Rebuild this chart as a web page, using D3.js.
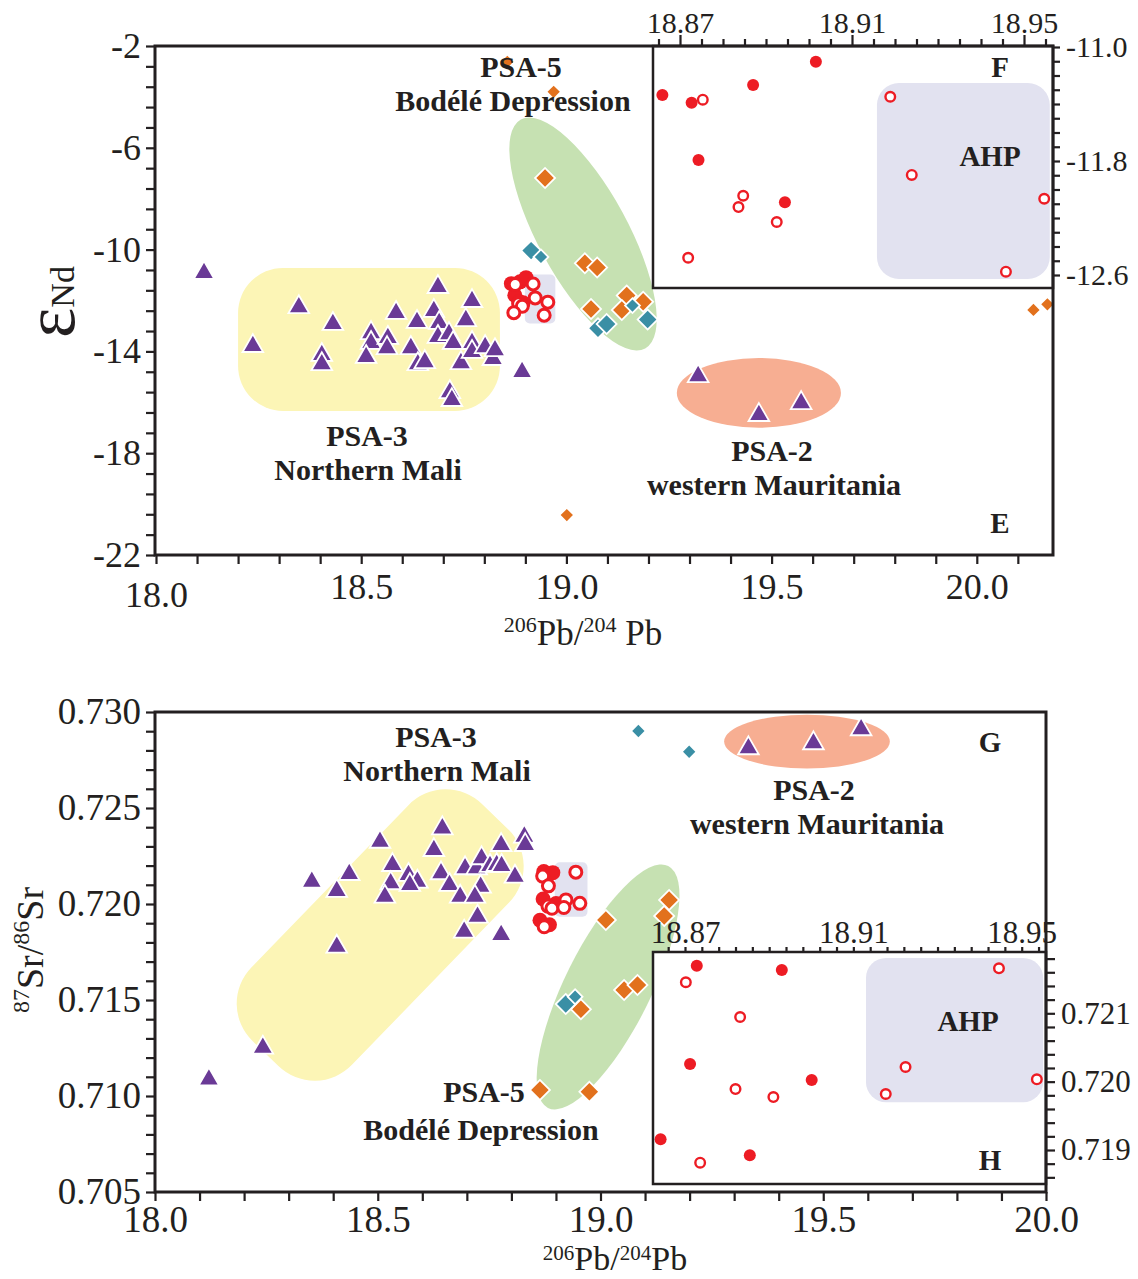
<!DOCTYPE html>
<html>
<head>
<meta charset="UTF-8">
<script src="https://d3js.org/d3.v7.min.js"></script>
<title>Pb-Nd-Sr isotopes</title>
<style>
  body { margin: 0; background: #fff; }
  text { font-family: "Liberation Serif", "Times New Roman", serif; fill: #231f20; }
</style>
</head>
<body>
<svg width="1138" height="1279"></svg>
<script>
// ---- data: 206Pb/204Pb vs eNd (panel E / inset F) ----
const ndPsa3 = [[18.117,-10.92],[18.348,-12.26],[18.236,-13.79],[18.431,-12.92],[18.404,-14.14],[18.404,-14.50],
  [18.524,-13.28],[18.524,-13.67],[18.512,-14.22],[18.565,-13.47],[18.563,-13.87],[18.585,-12.49],[18.621,-13.87],
  [18.636,-12.84],[18.638,-14.50],[18.655,-14.42],[18.677,-12.41],[18.687,-11.47],[18.690,-12.88],[18.687,-13.43],
  [18.714,-13.32],[18.724,-13.67],[18.743,-14.46],[18.755,-12.77],[18.770,-12.02],[18.770,-13.67],[18.770,-14.02],
  [18.802,-13.83],[18.821,-14.30],[18.826,-13.95],[18.716,-15.60],[18.721,-15.91],[18.892,-14.81]];
const ndPsa2 = [[19.321,-14.97],[19.469,-16.50],[19.572,-16.03]];
const ndOrange = [[18.948,-7.19],[19.045,-10.54],[19.075,-10.70],[19.060,-12.33],[19.147,-11.80],[19.187,-12.05],[19.135,-12.37]];
const ndOrangeSmall = [[18.856,-2.62],[18.969,-3.80],[19.001,-20.43],[20.138,-12.37],[20.172,-12.15]];
const ndTeal = [[18.914,-10.04],[19.077,-13.09],[19.098,-12.92],[19.198,-12.75]];
const ndTealSmall = [[18.938,-10.29],[19.161,-12.20]];
const ahpNdFilled = [[18.8659,-11.337],[18.8727,-11.391],[18.8743,-11.793],[18.8870,-11.267],[18.9016,-11.103],[18.8944,-12.090]];
const ahpNdOpen = [[18.8753,-11.370],[18.8847,-12.044],[18.8836,-12.123],[18.8925,-12.228],[18.8719,-12.479],
  [18.9189,-11.349],[18.9239,-11.898],[18.9547,-12.065],[18.9458,-12.577]];
const ahpNdBox = [[18.9158,-11.253],[18.956,-12.628]];

// ---- data: 206Pb/204Pb vs 87Sr/86Sr (panel G / inset H) ----
const srPsa3 = [[18.352,0.72116],[18.436,0.72156],[18.408,0.72068],[18.505,0.72324],[18.533,0.72203],[18.529,0.72108],
  [18.516,0.72038],[18.569,0.72151],[18.589,0.72116],[18.572,0.72099],[18.645,0.72394],[18.626,0.72281],[18.642,0.72160],
  [18.661,0.72099],[18.685,0.72038],[18.696,0.72186],[18.722,0.72186],[18.733,0.72238],[18.752,0.72198],[18.767,0.72203],
  [18.778,0.72198],[18.731,0.72090],[18.718,0.72038],[18.724,0.71934],[18.694,0.71856],[18.777,0.72307],[18.829,0.72351],
  [18.831,0.72307],[18.808,0.72142],[18.777,0.71839],[18.408,0.71778],[18.242,0.71252],[18.121,0.71086]];
const srPsa2 = [[19.332,0.72811],[19.478,0.72837],[19.585,0.72910]];
const srOrange = [[19.154,0.72021],[19.143,0.71938],[19.012,0.71917],[19.053,0.71552],[19.083,0.71578],[18.956,0.71452],
  [18.975,0.71022],[18.864,0.71031]];
const srTeal = [[18.922,0.71479]];
const srTealSmall = [[18.943,0.71517],[19.085,0.72901],[19.199,0.72793]];
const ahpSrFilled = [[18.8728,0.721696],[18.8930,0.721634],[18.8712,0.720258],[18.9001,0.720024],[18.8642,0.719157],[18.8854,0.718922]];
const ahpSrOpen = [[18.8702,0.721454],[18.8831,0.720946],[18.8820,0.719892],[18.8910,0.719775],[18.8736,0.718814],
  [18.9446,0.721658],[18.9224,0.720214],[18.9177,0.719819],[18.9536,0.720034]];
const ahpSrBox = [[18.913,0.72181],[18.9551,0.71970]];

// source areas (data coordinates)
const ndPsa3Area = [[18.200,-10.72],[18.838,-16.34]];
const ndPsa5Axis = [[18.889,-4.888],[19.192,-13.886]];
const ndPsa2Area = [[19.269,-14.26],[19.669,-17.0]];
const srPsa3Axis = [[18.248,0.71221],[18.763,0.72456]];
const srPsa5Axis = [[18.882,0.70938],[19.152,0.72198]];
const srPsa2Area = [[19.2775,0.72986],[19.6495,0.72706]];

const INK = "#231f20", PURPLE = "#6a3a96", RED = "#ed1c24", ORANGE = "#e2711d", TEAL = "#3a8fa5";
const YELLOW = "#fcf5b6", GREEN = "#c6e1b2", SALMON = "#f7ae92", LAV = "#e2e2f0";
const SERIF = '"Liberation Serif","Times New Roman",serif';

const svg = d3.select("svg");

// ---------- helpers ----------
function triangles(g, data, x, y) {
  g.selectAll(null).data(data).join("path")
    .attr("d", d3.symbol(d3.symbolTriangle, 185))
    .attr("transform", d => `translate(${x(d[0])},${y(d[1])})`)
    .attr("fill", PURPLE).attr("stroke", "#fff").attr("stroke-width", 1.8);
}
function diamonds(g, data, x, y, fill, area) {
  g.selectAll(null).data(data).join("path")
    .attr("d", d3.symbol(d3.symbolSquare, area))
    .attr("transform", d => `translate(${x(d[0])},${y(d[1])}) rotate(45)`)
    .attr("fill", fill).attr("stroke", "#fff").attr("stroke-width", 1.8);
}
function rings(g, filled, open, x, y, r, sw) {
  g.selectAll(null).data(filled).join("circle")
    .attr("cx", d => x(d[0])).attr("cy", d => y(d[1])).attr("r", r)
    .attr("fill", RED);
  g.selectAll(null).data(open).join("circle")
    .attr("cx", d => x(d[0])).attr("cy", d => y(d[1])).attr("r", r - sw / 2)
    .attr("fill", "#fff").attr("stroke", RED).attr("stroke-width", sw);
}
function box(g, b, x, y, pad, rx) {
  const x0 = x(b[0][0]) - pad, x1 = x(b[1][0]) + pad, y0 = y(b[0][1]) - pad, y1 = y(b[1][1]) + pad;
  g.append("rect").attr("x", x0).attr("y", y0).attr("width", x1 - x0).attr("height", y1 - y0)
    .attr("rx", rx).attr("fill", LAV);
}
// rounded rectangle (or ellipse when rx is null) laid along the axis p[0] -> p[1]
function tilted(g, p, x, y, half, rx, fill) {
  const x1 = x(p[0][0]), y1 = y(p[0][1]), x2 = x(p[1][0]), y2 = y(p[1][1]);
  const a = Math.hypot(x2 - x1, y2 - y1) / 2, ang = Math.atan2(y2 - y1, x2 - x1) * 180 / Math.PI;
  const tr = `translate(${(x1 + x2) / 2},${(y1 + y2) / 2}) rotate(${ang})`;
  if (rx == null) {
    g.append("ellipse").attr("rx", a).attr("ry", half).attr("transform", tr).attr("fill", fill);
  } else {
    g.append("rect").attr("x", -a).attr("y", -half).attr("width", 2 * a).attr("height", 2 * half)
      .attr("rx", rx).attr("ry", rx).attr("transform", tr).attr("fill", fill);
  }
}
function oval(g, b, x, y, fill) {
  const x0 = x(b[0][0]), x1 = x(b[1][0]), y0 = y(b[0][1]), y1 = y(b[1][1]);
  g.append("ellipse").attr("cx", (x0 + x1) / 2).attr("cy", (y0 + y1) / 2)
    .attr("rx", (x1 - x0) / 2).attr("ry", Math.abs(y1 - y0) / 2).attr("fill", fill);
}
// one text element, one tspan per line
function label(g, x, y, lines, size, gap, dxs) {
  const t = g.append("text").attr("x", x).attr("y", y).attr("text-anchor", "middle")
    .attr("font-weight", "bold").attr("font-size", size);
  lines.forEach((s, i) => t.append("tspan").attr("x", x + ((dxs && dxs[i]) || 0))
    .attr("dy", i === 0 ? 0 : gap).text(s));
}
function styleAxis(g, size) {
  g.select(".domain").remove();
  g.attr("font-family", SERIF).attr("font-size", size);
  g.selectAll(".tick line").attr("stroke", INK).attr("stroke-width", 2.2);
}
const near = (v, list) => list.some(t => Math.abs(v - t) < 1e-6);

// ================= panel E =================
const xN = d3.scaleLinear().domain([18, 20]).range([156, 976.8]);
const yN = d3.scaleLinear().domain([-2, -22]).range([46, 555]);
const gE = svg.append("g");

{
  const r = ndPsa3Area;
  gE.append("rect").attr("x", xN(r[0][0])).attr("y", yN(r[0][1]))
    .attr("width", xN(r[1][0]) - xN(r[0][0])).attr("height", yN(r[1][1]) - yN(r[0][1]))
    .attr("rx", 45).attr("fill", YELLOW);
}
tilted(gE, ndPsa5Axis, xN, yN, 45, null, GREEN);
oval(gE, ndPsa2Area, xN, yN, SALMON);
box(gE, ahpNdBox, xN, yN, 7, 5);

triangles(gE, ndPsa3, xN, yN);
triangles(gE, ndPsa2, xN, yN);
diamonds(gE, ndOrange, xN, yN, ORANGE, 200);
diamonds(gE, ndOrangeSmall, xN, yN, ORANGE, 110);
diamonds(gE, ndTeal, xN, yN, TEAL, 200);
diamonds(gE, ndTealSmall, xN, yN, TEAL, 110);
rings(gE, ahpNdFilled, ahpNdOpen, xN, yN, 7.5, 3);

label(gE, 513, 77, ["PSA-5", "Bodélé Depression"], 30, 34, [8, 0]);
label(gE, 368, 446, ["PSA-3", "Northern Mali"], 30, 34, [-1, 0]);
label(gE, 774, 461, ["PSA-2", "western Mauritania"], 30, 34, [-2, 0]);
label(gE, 1000, 533, ["E"], 29);

// inset F
const xF = d3.scaleLinear().domain([18.87, 18.95]).range([680, 1024]);
const yF = d3.scaleLinear().domain([-11.0, -12.6]).range([47, 275]);
const gF = svg.append("g");
gF.append("rect").attr("x", 653).attr("y", 46).attr("width", 400).attr("height", 242).attr("fill", "#fff");
box(gF, ahpNdBox, xF, yF, 0, 22);
rings(gF, ahpNdFilled, ahpNdOpen, xF, yF, 6, 2.4);
label(gF, 990, 166, ["AHP"], 29);
label(gF, 1000, 77, ["F"], 29);
gF.append("rect").attr("x", 653).attr("y", 46).attr("width", 400).attr("height", 242)
  .attr("fill", "none").attr("stroke", INK).attr("stroke-width", 2.5);

const fTop = [18.87, 18.91, 18.95];
gF.append("g").attr("transform", "translate(0,46)")
  .call(d3.axisTop(xF).tickValues(d3.range(19).map(k => 18.865 + 0.005 * k)).tickSize(7).tickPadding(6)
    .tickFormat(d => near(d, fTop) ? d.toFixed(2) : ""))
  .call(g => styleAxis(g, 30))
  .call(g => g.selectAll(".tick").filter(d => near(d, fTop)).select("line").attr("y2", -11));
const fRight = [-11.0, -11.8, -12.6];
gF.append("g").attr("transform", "translate(1053,0)")
  .call(d3.axisRight(yF).tickValues(d3.range(17).map(k => -11 - 0.1 * k)).tickSize(7).tickPadding(6)
    .tickFormat(d => near(d, fRight) ? d.toFixed(1) : ""))
  .call(g => styleAxis(g, 30));

// frame + axes E
svg.append("rect").attr("x", 155).attr("y", 46).attr("width", 898).attr("height", 509)
  .attr("fill", "none").attr("stroke", INK).attr("stroke-width", 3);
svg.append("g").attr("transform", "translate(155,0)")
  .call(d3.axisLeft(yN).tickValues(d3.range(26).map(k => -2 - 0.8 * k)).tickSize(9).tickPadding(5)
    .tickFormat((d, i) => i % 5 === 0 ? String(Math.round(d)) : ""))
  .call(g => styleAxis(g, 36));
svg.append("g").attr("transform", "translate(0,555)")
  .call(d3.axisBottom(xN).tickValues(d3.range(22).map(k => 18 + 0.1 * k)).tickSize(9).tickPadding(9)
    .tickFormat((d, i) => i % 5 === 0 ? d.toFixed(1) : ""))
  .call(g => styleAxis(g, 36))
  .call(g => g.selectAll(".tick text").filter((d, i) => i === 0).attr("transform", "translate(0,8)"));

// axis titles E
const eps = svg.append("text").attr("transform", "translate(74,302) rotate(-90)").attr("text-anchor", "middle");
eps.append("tspan").attr("font-size", 72).text("ε");
eps.append("tspan").attr("font-size", 34).text("Nd");
const xtE = svg.append("text").attr("x", 583).attr("y", 645).attr("text-anchor", "middle").attr("font-size", 35);
xtE.append("tspan").attr("font-size", 22).attr("dy", -13).text("206");
xtE.append("tspan").attr("dy", 13).text("Pb/");
xtE.append("tspan").attr("font-size", 22).attr("dy", -13).text("204");
xtE.append("tspan").attr("dy", 13).text(" Pb");

// ================= panel G =================
const xS = d3.scaleLinear().domain([18, 20]).range([155, 1046]);
const yS = d3.scaleLinear().domain([0.705, 0.730]).range([1192, 712]);
const gG = svg.append("g");

tilted(gG, srPsa3Axis, xS, yS, 70, 52, YELLOW);
tilted(gG, srPsa5Axis, xS, yS, 43, null, GREEN);
oval(gG, srPsa2Area, xS, yS, SALMON);
box(gG, ahpSrBox, xS, yS, 7, 5);

triangles(gG, srPsa3, xS, yS);
triangles(gG, srPsa2, xS, yS);
diamonds(gG, srOrange, xS, yS, ORANGE, 200);
diamonds(gG, srTeal, xS, yS, TEAL, 200);
diamonds(gG, srTealSmall, xS, yS, TEAL, 110);
rings(gG, ahpSrFilled, ahpSrOpen, xS, yS, 7.5, 3);

label(gG, 437, 747, ["PSA-3", "Northern Mali"], 30, 34, [-1, 0]);
label(gG, 817, 800, ["PSA-2", "western Mauritania"], 30, 34, [-3, 0]);
label(gG, 481, 1102, ["PSA-5", "Bodélé Depression"], 30, 38, [3, 0]);
label(gG, 990, 752, ["G"], 29);

// inset H
const xH = d3.scaleLinear().domain([18.87, 18.95]).range([685, 1021.7]);
const yH = d3.scaleLinear().domain([0.719, 0.721]).range([1150, 1013.3]);
const gH = svg.append("g");
gH.append("rect").attr("x", 653).attr("y", 952).attr("width", 393).attr("height", 232).attr("fill", "#fff");
box(gH, ahpSrBox, xH, yH, 0, 20);
rings(gH, ahpSrFilled, ahpSrOpen, xH, yH, 6, 2.4);
label(gH, 968, 1031, ["AHP"], 29);
label(gH, 990, 1170, ["H"], 29);
gH.append("rect").attr("x", 653).attr("y", 952).attr("width", 393).attr("height", 232)
  .attr("fill", "none").attr("stroke", INK).attr("stroke-width", 2.5);
gH.append("g").attr("transform", "translate(0,952)")
  .call(d3.axisTop(xH).tickValues(d3.range(23).map(k => 18.866 + 0.004 * k)).tickSize(5).tickPadding(4)
    .tickFormat(d => near(d, fTop) ? d.toFixed(2) : ""))
  .call(g => styleAxis(g, 31));
const hRight = [0.719, 0.720, 0.721];
gH.append("g").attr("transform", "translate(1046,0)")
  .call(d3.axisRight(yH).tickValues(d3.range(17).map(k => 0.7186 + 0.0002 * k)).tickSize(9).tickPadding(6)
    .tickFormat(d => near(d, hRight) ? d.toFixed(3) : ""))
  .call(g => styleAxis(g, 31));

// frame + axes G
svg.append("rect").attr("x", 155).attr("y", 712).attr("width", 891).attr("height", 480)
  .attr("fill", "none").attr("stroke", INK).attr("stroke-width", 3);
svg.append("g").attr("transform", "translate(155,0)")
  .call(d3.axisLeft(yS).tickValues(d3.range(26).map(k => 0.705 + 0.001 * k)).tickSize(9).tickPadding(5)
    .tickFormat((d, i) => i % 5 === 0 ? d.toFixed(3) : ""))
  .call(g => styleAxis(g, 37));
svg.append("g").attr("transform", "translate(0,1192)")
  .call(d3.axisBottom(xS).tickValues(d3.range(21).map(k => 18 + 0.1 * k)).tickSize(9).tickPadding(5)
    .tickFormat((d, i) => i % 5 === 0 ? d.toFixed(1) : ""))
  .call(g => styleAxis(g, 37));

// axis titles G
const ytG = svg.append("text").attr("transform", "translate(43,950) rotate(-90)").attr("text-anchor", "middle").attr("font-size", 38);
ytG.append("tspan").attr("font-size", 24).attr("dy", -14).text("87");
ytG.append("tspan").attr("dy", 14).text("Sr/");
ytG.append("tspan").attr("font-size", 24).attr("dy", -14).text("86");
ytG.append("tspan").attr("dy", 14).text("Sr");
const xtG = svg.append("text").attr("x", 615).attr("y", 1270).attr("text-anchor", "middle").attr("font-size", 34);
xtG.append("tspan").attr("font-size", 21).attr("dy", -10).text("206");
xtG.append("tspan").attr("dy", 10).text("Pb/");
xtG.append("tspan").attr("font-size", 21).attr("dy", -10).text("204");
xtG.append("tspan").attr("dy", 10).text("Pb");
</script>
</body>
</html>
